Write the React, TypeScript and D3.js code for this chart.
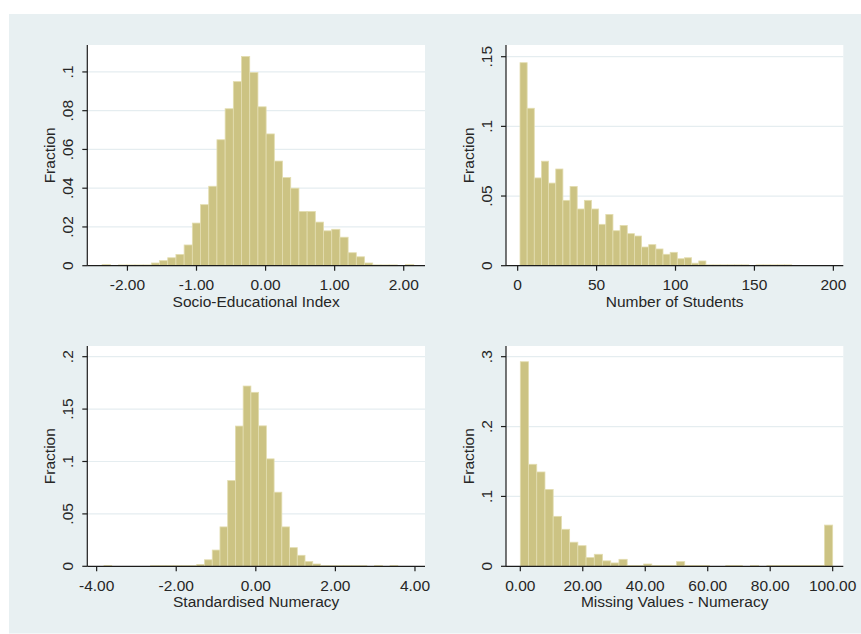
import React from "react";
import * as d3 from "d3";

// Histogram fractions (38 equal-width bins per variable)
const sesFraction = [
  0.0006, 0, 0.0004, 0.0004, 0.0004, 0.0004, 0.0014, 0.0026, 0.0041, 0.0058,
  0.0107, 0.022, 0.0315, 0.041, 0.065, 0.081, 0.095, 0.108, 0.0997, 0.082,
  0.068, 0.054, 0.0455, 0.04, 0.028, 0.028, 0.0225, 0.018, 0.0188, 0.0147,
  0.0067, 0.0046, 0.0014, 0.0004, 0.0004, 0.0004, 0, 0.0006,
];
const SES_BIN_START = -2.366;
const SES_BIN_WIDTH = 0.1187;

const studentsFraction = [
  0.1457, 0.113, 0.063, 0.075, 0.0593, 0.0694, 0.0469, 0.0569, 0.0407, 0.0469,
  0.0407, 0.0297, 0.0368, 0.0251, 0.0289, 0.023, 0.0213, 0.0134, 0.0151, 0.012,
  0.0082, 0.0096, 0.005, 0.0057, 0.0018, 0.0034, 0.0006, 0.0006, 0.0006, 0.0006,
  0.0006, 0.0006, 0, 0.0006, 0.0006, 0.0006, 0.0006, 0.0006,
];
const STUDENTS_BIN_START = 1.48;
const STUDENTS_BIN_WIDTH = 4.53;

const numeracyFraction = [
  0.0008, 0, 0, 0, 0, 0, 0.0006, 0.0006, 0.0006, 0.0006,
  0.0006, 0.0006, 0.0018, 0.0062, 0.0155, 0.0376, 0.0818, 0.1338, 0.172, 0.166,
  0.134, 0.1025, 0.0707, 0.0376, 0.0178, 0.0105, 0.0045, 0.0022, 0.0006, 0.0006,
  0.0006, 0.0006, 0.0006, 0.0006, 0, 0.0008, 0, 0.0008,
];
const NUMERACY_BIN_START = -3.815;
const NUMERACY_BIN_WIDTH = 0.1943;

const missingFraction = [
  0.2928, 0.146, 0.135, 0.11, 0.0715, 0.053, 0.0345, 0.0295, 0.0125, 0.0172,
  0.0078, 0.0048, 0.01, 0.0012, 0.0012, 0.0033, 0.0012, 0.0012, 0.0012, 0.0067,
  0.0012, 0.0012, 0.0012, 0, 0, 0.0012, 0.0012, 0, 0.0012, 0,
  0.0012, 0.0012, 0.0012, 0.0012, 0.0012, 0.0012, 0.0012, 0.059,
];
const MISSING_BIN_START = 0;
const MISSING_BIN_WIDTH = 100 / 38;

// Axis ticks
const sesXTicks = [-2, -1, 0, 1, 2];
const sesYTicks = [0, 0.02, 0.04, 0.06, 0.08, 0.1];
const studentsXTicks = [0, 50, 100, 150, 200];
const studentsYTicks = [0, 0.05, 0.1, 0.15];
const numeracyXTicks = [-4, -2, 0, 2, 4];
const numeracyYTicks = [0, 0.05, 0.1, 0.15, 0.2];
const missingXTicks = [0, 20, 40, 60, 80, 100];
const missingYTicks = [0, 0.1, 0.2, 0.3];

const fixed2 = (d: number) => d.toFixed(2);
const plain = (d: number) => String(d);
const fracLabel = (d: number) => (d === 0 ? "0" : String(d).replace(/^0/, ""));

const panels = [
  {
    key: "ses",
    xTitle: "Socio-Educational Index",
    values: sesFraction,
    binStart: SES_BIN_START,
    binWidth: SES_BIN_WIDTH,
    xTicks: sesXTicks,
    yTicks: sesYTicks,
    xFmt: fixed2,
    box: { left: 87.3, right: 425, top: 45, bottom: 265.7 },
    xDomain: [-2.581, 2.308],
    yTop: 0.1139,
  },
  {
    key: "students",
    xTitle: "Number of Students",
    values: studentsFraction,
    binStart: STUDENTS_BIN_START,
    binWidth: STUDENTS_BIN_WIDTH,
    xTicks: studentsXTicks,
    yTicks: studentsYTicks,
    xFmt: plain,
    box: { left: 506, right: 843.3, top: 45, bottom: 265.7 },
    xDomain: [-7.39, 206.3],
    yTop: 0.1584,
  },
  {
    key: "numeracy",
    xTitle: "Standardised Numeracy",
    values: numeracyFraction,
    binStart: NUMERACY_BIN_START,
    binWidth: NUMERACY_BIN_WIDTH,
    xTicks: numeracyXTicks,
    yTicks: numeracyYTicks,
    xFmt: fixed2,
    box: { left: 87.3, right: 425, top: 346, bottom: 566.3 },
    xDomain: [-4.235, 4.252],
    yTop: 0.2102,
  },
  {
    key: "missing",
    xTitle: "Missing Values - Numeracy",
    values: missingFraction,
    binStart: MISSING_BIN_START,
    binWidth: MISSING_BIN_WIDTH,
    xTicks: missingXTicks,
    yTicks: missingYTicks,
    xFmt: fixed2,
    box: { left: 506, right: 843.3, top: 346, bottom: 566.3 },
    xDomain: [-4.58, 103.4],
    yTop: 0.3153,
  },
];

const FONT = "'Liberation Sans', Arial, Helvetica, sans-serif";
const FONT_SIZE = 15.5;
const TEXT = "#262626";
const AXIS = "#1c1c1c";
const BAR_FILL = "#ccc383";
const BAR_EDGE = "#e3ddb0";
const GRID = "#e5edf0";
const BACKDROP = "#e8f0f2";

function Histogram({ p }: { p: (typeof panels)[number] }) {
  const { left, right, top, bottom } = p.box;
  const x = d3.scaleLinear().domain(p.xDomain).range([left, right]);
  const y = d3.scaleLinear().domain([0, p.yTop]).range([bottom, top]);

  return (
    <g>
      <rect x={left} y={top} width={right - left} height={bottom - top} fill="#ffffff" />
      {p.yTicks
        .filter((t) => t !== 0)
        .map((t) => (
          <line key={"g" + t} x1={left} x2={right} y1={y(t)} y2={y(t)} stroke={GRID} strokeWidth={1.2} />
        ))}
      {p.values.map((v, i) => {
        if (v <= 0) return null;
        const x0 = x(p.binStart + i * p.binWidth);
        const x1 = x(p.binStart + (i + 1) * p.binWidth);
        return (
          <rect
            key={i}
            x={x0}
            y={y(v)}
            width={x1 - x0}
            height={y(0) - y(v)}
            fill={BAR_FILL}
            stroke={BAR_EDGE}
            strokeWidth={0.8}
          />
        );
      })}
      {/* axes */}
      <line x1={left} x2={left} y1={top} y2={bottom} stroke={AXIS} strokeWidth={1.2} />
      <line x1={left} x2={right} y1={bottom} y2={bottom} stroke={AXIS} strokeWidth={1.2} />
      {p.yTicks.map((t) => (
        <g key={"y" + t}>
          <line x1={left - 5} x2={left} y1={y(t)} y2={y(t)} stroke={AXIS} strokeWidth={1.2} />
          <text
            transform={`translate(${left - 14.5},${y(t)}) rotate(-90)`}
            textAnchor="middle"
            fontFamily={FONT}
            fontSize={FONT_SIZE}
            fill={TEXT}
          >
            {fracLabel(t)}
          </text>
        </g>
      ))}
      {p.xTicks.map((t) => (
        <g key={"x" + t}>
          <line x1={x(t)} x2={x(t)} y1={bottom} y2={bottom + 5} stroke={AXIS} strokeWidth={1.2} />
          <text x={x(t)} y={bottom + 24.3} textAnchor="middle" fontFamily={FONT} fontSize={FONT_SIZE} fill={TEXT}>
            {p.xFmt(t)}
          </text>
        </g>
      ))}
      <text
        x={(left + right) / 2}
        y={bottom + 41}
        textAnchor="middle"
        fontFamily={FONT}
        fontSize={FONT_SIZE}
        fill={TEXT}
      >
        {p.xTitle}
      </text>
      <text
        transform={`translate(${left - 32.3},${(top + bottom) / 2}) rotate(-90)`}
        textAnchor="middle"
        fontFamily={FONT}
        fontSize={FONT_SIZE}
        fill={TEXT}
      >
        Fraction
      </text>
    </g>
  );
}

export default function App() {
  return (
    <svg
      width={861}
      height={634}
      viewBox="0 0 861 634"
      style={{ position: "absolute", left: 0, top: 0, display: "block" }}
    >
      <rect x={0} y={0} width={861} height={634} fill="#ffffff" />
      <rect x={9} y={14} width={852} height={619.5} fill={BACKDROP} />
      {panels.map((p) => (
        <Histogram key={p.key} p={p} />
      ))}
    </svg>
  );
}
